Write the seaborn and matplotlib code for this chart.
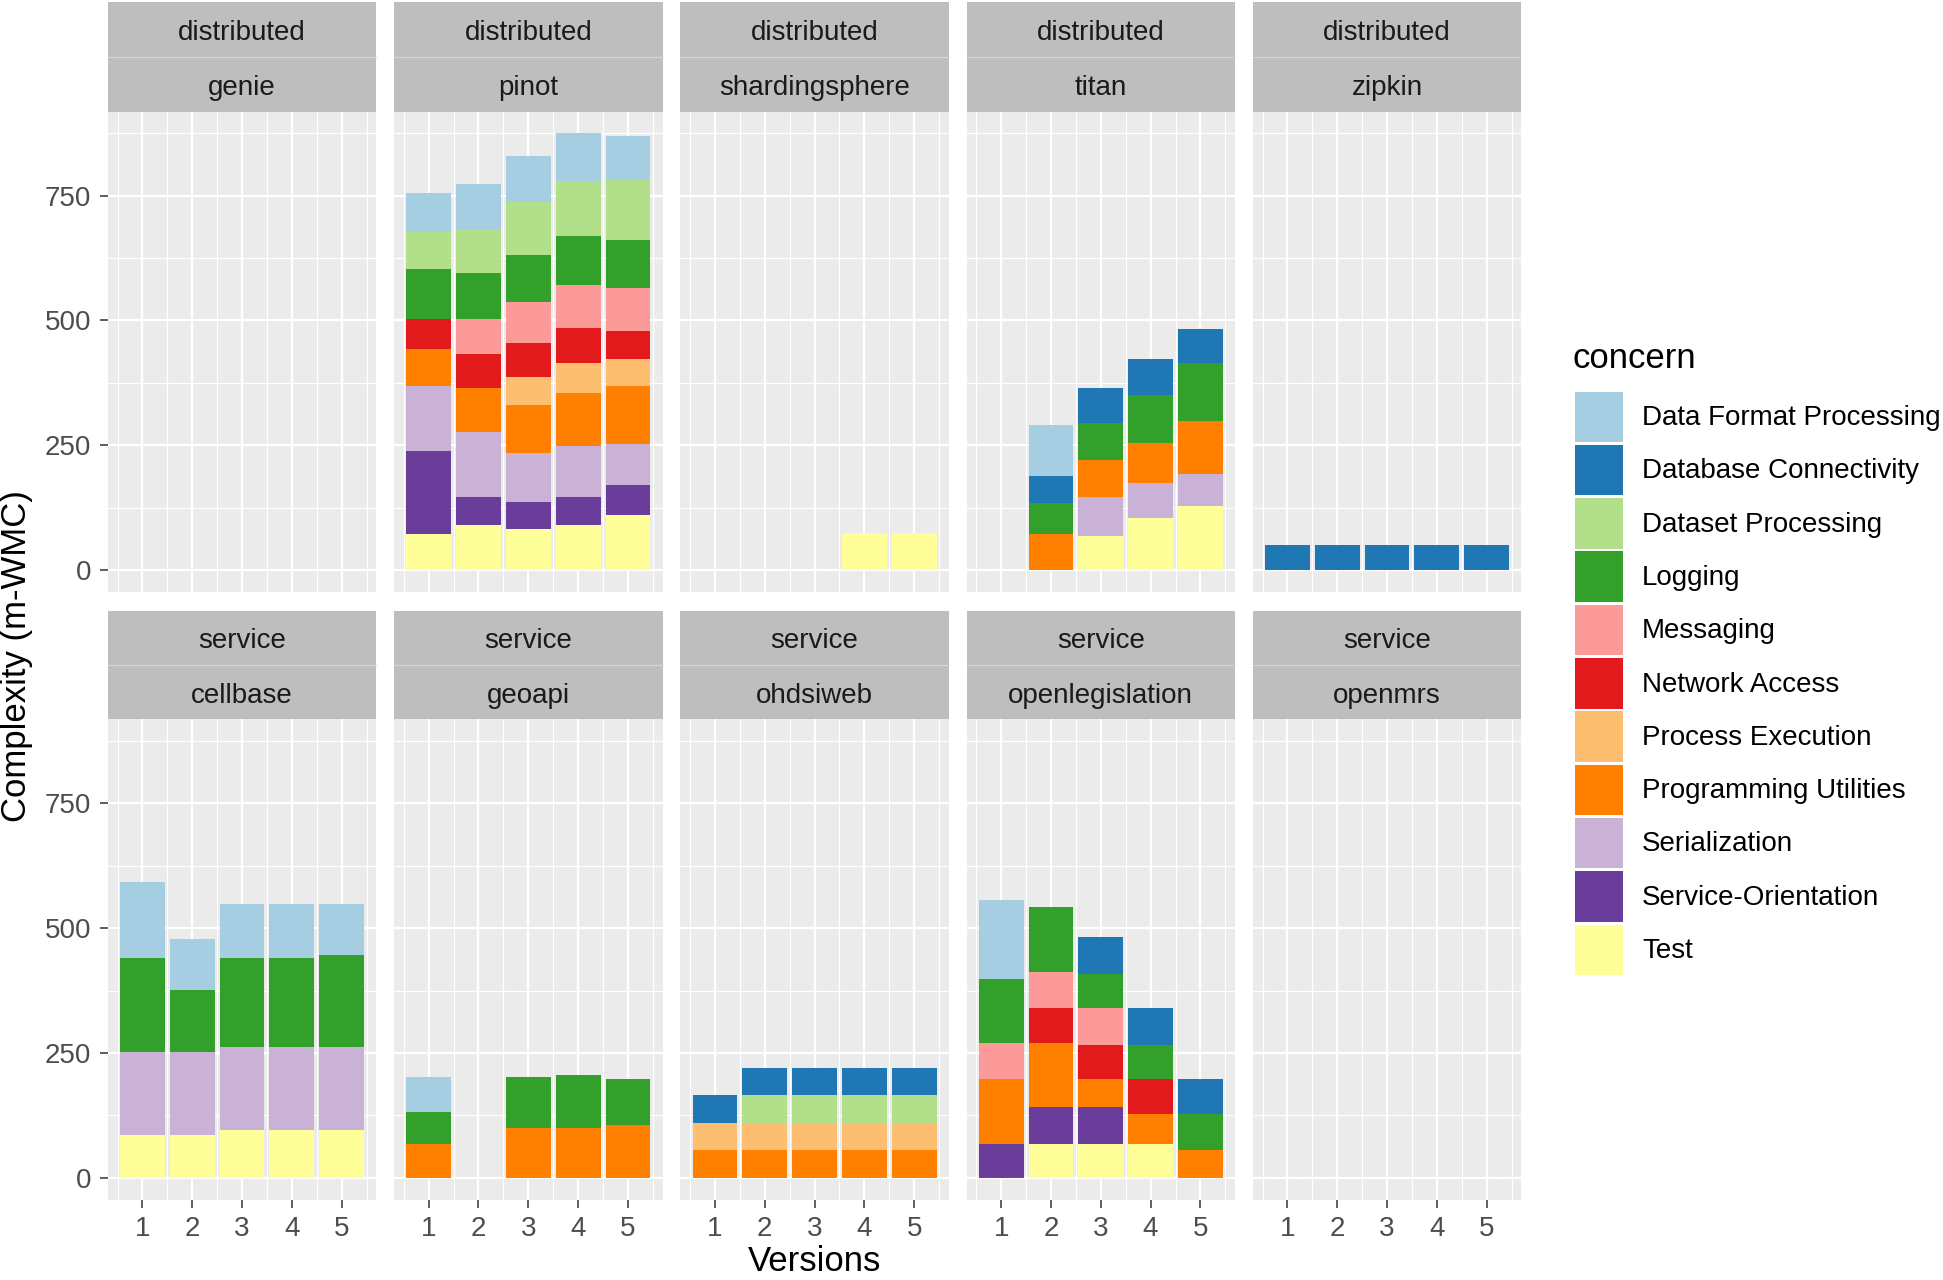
import matplotlib
matplotlib.use("Agg")
import matplotlib.pyplot as plt
from matplotlib.patches import Rectangle
import seaborn as sns
import pandas as pd

# concerns in legend order (first one ends up on top of each stack)
concerns = ["Data Format Processing", "Database Connectivity", "Dataset Processing",
            "Logging", "Messaging", "Network Access", "Process Execution",
            "Programming Utilities", "Serialization", "Service-Orientation", "Test"]
colors = ["#A6CEE3", "#1F78B4", "#B2DF8A", "#33A02C", "#FB9A99", "#E31A1C",
          "#FDBF6F", "#FF7F00", "#CAB2D6", "#6A3D9A", "#FFFF99"]

versions = [1, 2, 3, 4, 5]
groups = ["distributed"] * 5 + ["service"] * 5
projects = ["genie", "pinot", "shardingsphere", "titan", "zipkin",
            "cellbase", "geoapi", "ohdsiweb", "openlegislation", "openmrs"]

# values per version (m-WMC)
genie = {}
pinot = {
    "Data Format Processing": [78, 92, 92, 96, 88],
    "Dataset Processing": [74, 87, 106, 111, 120],
    "Logging": [101, 93, 93, 97, 97],
    "Messaging": [0, 69, 83, 87, 87],
    "Network Access": [60, 69, 69, 71, 55],
    "Process Execution": [0, 0, 55, 59, 55],
    "Programming Utilities": [74, 88, 97, 107, 115],
    "Serialization": [129, 129, 97, 101, 83],
    "Service-Orientation": [166, 56, 55, 56, 60],
    "Test": [73, 91, 82, 91, 110],
}
shardingsphere = {"Test": [0, 0, 0, 74, 74]}
titan = {
    "Data Format Processing": [0, 101, 0, 0, 0],
    "Database Connectivity": [0, 55, 69, 73, 69],
    "Logging": [0, 61, 74, 96, 115],
    "Programming Utilities": [0, 73, 74, 79, 106],
    "Serialization": [0, 0, 79, 70, 65],
    "Test": [0, 0, 68, 105, 128],
}
zipkin = {"Database Connectivity": [50, 50, 50, 50, 50]}
cellbase = {
    "Data Format Processing": [152, 101, 107, 107, 102],
    "Logging": [189, 125, 180, 180, 185],
    "Serialization": [166, 166, 166, 166, 166],
    "Test": [86, 86, 95, 95, 95],
}
geoapi = {
    "Data Format Processing": [69, 0, 0, 0, 0],
    "Logging": [65, 0, 101, 105, 92],
    "Programming Utilities": [67, 0, 100, 100, 105],
}
ohdsiweb = {
    "Database Connectivity": [55, 55, 55, 55, 55],
    "Dataset Processing": [0, 55, 55, 55, 55],
    "Process Execution": [55, 55, 55, 55, 55],
    "Programming Utilities": [55, 55, 55, 55, 55],
}
openlegislation = {
    "Data Format Processing": [157, 0, 0, 0, 0],
    "Database Connectivity": [0, 0, 74, 74, 69],
    "Logging": [129, 129, 69, 69, 73],
    "Messaging": [73, 74, 73, 0, 0],
    "Network Access": [0, 69, 69, 69, 0],
    "Programming Utilities": [130, 129, 56, 61, 55],
    "Service-Orientation": [67, 74, 74, 0, 0],
    "Test": [0, 67, 67, 67, 0],
}
openmrs = {}

tables = [genie, pinot, shardingsphere, titan, zipkin,
          cellbase, geoapi, ohdsiweb, openlegislation, openmrs]

rows = []
for grp, proj, tab in zip(groups, projects, tables):
    for c, vals in tab.items():
        for v, val in zip(versions, vals):
            if val > 0:
                rows.append({"group": grp, "project": proj, "concern": c,
                             "version": v, "value": val})
df = pd.DataFrame(rows)

sns.set_theme(style="white")
plt.rcParams["font.family"] = ["Liberation Sans", "DejaVu Sans"]

W, H = 1943, 1280
fig = plt.figure(figsize=(W / 100, H / 100), dpi=100)

col_left = [107.8 + 286.25 * i for i in range(5)]
pw = 268.5
row_top = [111.7, 719.3]
ph = 480.5
strip_top = [1.7, 610.7]

pal = dict(zip(concerns, colors))
for i, proj in enumerate(projects):
    r, c = divmod(i, 5)
    x0 = col_left[c] / W
    y0 = 1 - (row_top[r] + ph) / H
    ax = fig.add_axes([x0, y0, pw / W, ph / H])
    ax.set_facecolor("#EBEBEB")
    sub = df[df["project"] == proj]
    if len(sub):
        sns.histplot(data=sub, x="version", weights="value", hue="concern",
                     hue_order=concerns, palette=pal, multiple="stack",
                     discrete=True, shrink=0.9, linewidth=0, alpha=1,
                     legend=False, ax=ax)
    ax.set_xlim(0.305, 5.695)
    ax.set_ylim(-44, 918)
    ax.set_xticks(versions)
    ax.set_xticks([0.5, 1.5, 2.5, 3.5, 4.5, 5.5], minor=True)
    ax.set_yticks([0, 250, 500, 750])
    ax.set_yticks([125, 375, 625, 875], minor=True)
    ax.grid(which="major", color="white", linewidth=1.6)
    ax.grid(which="minor", color="white", linewidth=0.8)
    ax.set_axisbelow(True)
    for s in ax.spines.values():
        s.set_visible(False)
    ax.set_xlabel("")
    ax.set_ylabel("")
    ax.tick_params(which="minor", length=0)
    ax.tick_params(axis="y", which="major", length=6, width=1.1, color="#333333",
                   labelsize=20, labelcolor="#4D4D4D", pad=6, left=(c == 0),
                   labelleft=(c == 0))
    ax.tick_params(axis="x", which="major", length=6, width=1.1, color="#333333",
                   labelsize=20, labelcolor="#4D4D4D", pad=6, bottom=(r == 1),
                   labelbottom=(r == 1))

# overlay in pixel coordinates for strips, labels and legend
ov = fig.add_axes([0, 0, 1, 1])
ov.set_xlim(0, W)
ov.set_ylim(H, 0)
ov.axis("off")
ov.patch.set_visible(False)

for i, (grp, proj) in enumerate(zip(groups, projects)):
    r, c = divmod(i, 5)
    top = strip_top[r]
    bot = row_top[r]
    mid = (top + bot) / 2
    ov.add_patch(Rectangle((col_left[c], top), pw, bot - top,
                           facecolor="#BEBEBE", edgecolor="none"))
    ov.plot([col_left[c], col_left[c] + pw], [mid, mid], color="#D6D6D6", lw=0.8)
    xc = col_left[c] + pw / 2
    ov.text(xc, (top + mid) / 2 + 3.5, grp, ha="center", va="center",
            fontsize=20, color="#1A1A1A")
    ov.text(xc, (mid + bot) / 2 + 3.5, proj, ha="center", va="center",
            fontsize=20, color="#1A1A1A")

ov.text(17, 656, "Complexity (m-WMC)", rotation=90, ha="center", va="center",
        fontsize=25, color="black")
ov.text(814.8, 1271, "Versions", ha="center", va="baseline",
        fontsize=25, color="black")

# legend
ov.text(1572, 358, "concern", ha="left", va="center", fontsize=25, color="black")
for k, (name, col) in enumerate(zip(concerns, colors)):
    ky = 391.5 + 53.3 * k
    ov.add_patch(Rectangle((1575, ky), 48, 50.5, facecolor=col, edgecolor="none"))
    ov.text(1642, ky + 26.5, name, ha="left", va="center", fontsize=20,
            color="black")

fig.savefig("out.png", dpi=100)
